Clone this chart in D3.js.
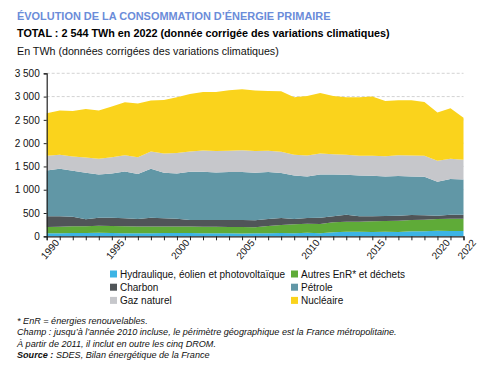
<!DOCTYPE html>
<html><head><meta charset="utf-8">
<script src="https://cdn.jsdelivr.net/npm/d3@7"></script>
<style>
body{margin:0;background:#fff;}
svg{display:block;font-family:"Liberation Sans",Arial,sans-serif;}
</style></head>
<body>
<svg id="c" width="490" height="367"></svg>
<script>
const years = d3.range(1990, 2023);
// per-series values (TWh)
const hydraulique = [65,67,72,72,75,73,68,68,67,72,70,73,66,65,65,62,63,65,72,68,74,68,85,100,96,93,96,92,110,110,118,115,112];
const autresEnR   = [135,140,142,142,154,148,147,144,143,140,140,135,137,138,137,138,132,156,171,189,197,196,215,214,218,228,233,244,240,247,253,264,267];
const charbon     = [229,222,207,150,171,179,171,159,190,174,169,142,147,147,148,150,148,150,150,114,122,136,129,150,115,108,107,107,107,93,72,85,85];
const petrole     = [985,1021,986,1000,929,950,1007,965,1050,978,971,1036,1036,1021,1029,1029,1021,1008,964,936,893,929,900,857,878,871,850,850,829,829,728,765,757];
const gazNaturel  = [315,300,307,329,335,350,350,364,371,415,436,435,457,458,457,471,465,457,457,443,450,450,435,429,422,429,435,450,450,450,450,435,422];
const nucleaire   = [914,950,979,1043,1036,1086,1136,1150,1093,1150,1200,1236,1257,1271,1300,1305,1300,1285,1300,1236,1278,1300,1250,1236,1257,1271,1186,1178,1185,1157,1036,1086,901];

const seriesKeys  = ["hydraulique","autresEnR","charbon","petrole","gazNaturel","nucleaire"];
const seriesNames = ["Hydraulique, éolien et photovoltaïque","Autres EnR* et déchets","Charbon","Pétrole","Gaz naturel","Nucléaire"];
const colors      = ["#3cb4e5","#5fab38","#505558","#6197a6","#c6c7cb","#fad31c"];
const yTicks      = [0,500,1000,1500,2000,2500,3000,3500];
const yTickLabels = ["0","500","1 000","1 500","2 000","2 500","3 000","3 500"];
const xLabelYears = [1990,1995,2000,2005,2010,2015,2020,2022];

const table = years.map((y,i)=>({year:y,hydraulique:hydraulique[i],autresEnR:autresEnR[i],charbon:charbon[i],petrole:petrole[i],gazNaturel:gazNaturel[i],nucleaire:nucleaire[i]}));

const svg = d3.select("#c");
const x = d3.scaleLinear().domain([1990,2022]).range([46.7,463.5]);
const y = d3.scaleLinear().domain([0,3500]).range([236.3,73.3]);

// titles
svg.append("text").attr("x",17).attr("y",20).attr("fill","#6b8cd9").attr("font-weight","bold").attr("font-size",10.95).text("ÉVOLUTION DE LA CONSOMMATION D’ÉNERGIE PRIMAIRE");
svg.append("text").attr("x",17).attr("y",36.5).attr("fill","#000").attr("font-weight","bold").attr("font-size",10.8).text("TOTAL : 2 544 TWh en 2022 (donnée corrigée des variations climatiques)");
svg.append("text").attr("x",17).attr("y",55).attr("fill","#111").attr("font-size",10.7).text("En TWh (données corrigées des variations climatiques)");

// grid
svg.append("g").selectAll("line").data(yTicks.slice(1)).join("line")
  .attr("x1",46.7).attr("x2",463.5).attr("y1",d=>y(d)).attr("y2",d=>y(d))
  .attr("stroke","#c8c8c8").attr("stroke-width",0.8).attr("stroke-dasharray","3,2");

// areas
const stack = d3.stack().keys(seriesKeys);
const layers = stack(table);
const area = d3.area().x(d=>x(d.data.year)).y0(d=>y(d[0])).y1(d=>y(d[1]));
svg.append("g").selectAll("path").data(layers).join("path")
  .attr("d",area).attr("fill",(d,i)=>colors[i]);

// y axis
const yAxis = d3.axisLeft(y).tickValues(yTicks).tickFormat((d,i)=>yTickLabels[i]).tickSize(3).tickPadding(4);
const gy = svg.append("g").attr("transform","translate(46.7,0)").call(yAxis);
gy.select(".domain").attr("stroke","#222").attr("stroke-width",1.2);
gy.selectAll(".tick line").attr("stroke","#222");
gy.selectAll("text").attr("font-size",10).attr("fill","#111").attr("font-family","Liberation Sans, Arial, sans-serif");

// x axis
const xAxis = d3.axisBottom(x).tickValues(years).tickSize(4).tickFormat(d=>xLabelYears.includes(d)?String(d):"");
const gx = svg.append("g").attr("transform","translate(0,236.3)").call(xAxis);
gx.select(".domain").attr("stroke","#222").attr("stroke-width",1.2);
gx.selectAll(".tick line").attr("stroke","#222");
gx.selectAll("text").attr("font-size",10).attr("fill","#111").attr("font-family","Liberation Sans, Arial, sans-serif")
  .attr("text-anchor","end").attr("dx","0.3em").attr("dy","0.7em").attr("transform","rotate(-50)");

// legend
const legOrder = [0,1,2,3,4,5];
const lg = svg.append("g").selectAll("g").data(legOrder).join("g")
  .attr("transform",(d,i)=>`translate(${i%2===0?110:291},${270.5+Math.floor(i/2)*13.2})`);
lg.append("rect").attr("width",7).attr("height",7).attr("fill",d=>colors[d]);
lg.append("text").attr("x",10).attr("y",7).attr("font-size",10).attr("fill","#111").text(d=>seriesNames[d]);

// notes
const notes = [
  "* EnR = énergies renouvelables.",
  "Champ : jusqu’à l’année 2010 incluse, le périmètre géographique est la France métropolitaine.",
  "À partir de 2011, il inclut en outre les cinq DROM."
];
notes.forEach((n,i)=>{
  svg.append("text").attr("x",17).attr("y",324+i*11.3).attr("font-size",9.1).attr("font-style","italic").attr("fill","#111").text(n);
});
const src = svg.append("text").attr("x",17).attr("y",358).attr("font-size",9.1).attr("font-style","italic").attr("fill","#111");
src.append("tspan").attr("font-weight","bold").text("Source :");
src.append("tspan").text(" SDES, Bilan énergétique de la France");
</script>
</body></html>
